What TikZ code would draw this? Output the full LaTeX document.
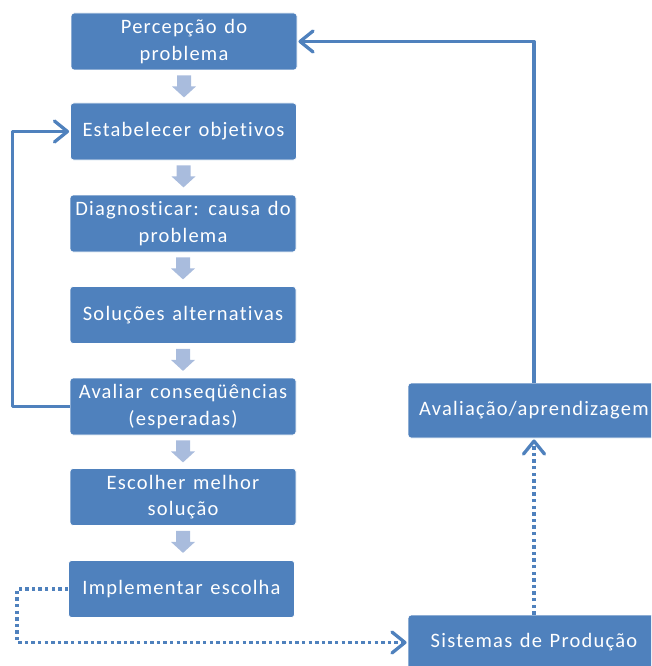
\documentclass[tikz,border=0pt]{standalone}
\usepackage{fontspec}
\setmainfont{Carlito}[Ligatures=NoCommon, LetterSpace=6, WordSpace=1.3]
\usetikzlibrary{arrows.meta}
\definecolor{boxblue}{HTML}{4F81BD}
\definecolor{stepblue}{HTML}{A9BCDD}
\definecolor{linkblue}{HTML}{4F81BD}
\tikzset{
  stage/.style={draw=white, line width=0.8pt, fill=boxblue, rounded corners=3pt,
    text=white, align=center, inner sep=0pt,
    minimum width=226pt, minimum height=57pt,
    font=\fontsize{20.5}{26.5}\selectfont},
  widestage/.style={stage, minimum width=252pt, minimum height=55pt},
  flowarrow/.style={fill=stepblue},
  loopline/.style={draw=linkblue, line width=3.3pt, line join=round,
    -{Straight Barb[length=13pt,width=21pt,line cap=round,line join=round]}, shorten >=1pt},
  dotline/.style={loopline, dash pattern=on 3.4pt off 3.2pt},
}
\newcommand\stepdown[1]{%
  \fill[flowarrow, shift={(#1.south)}]
    (-7,5) -- (7,5) -- (7,16) -- (12,16) -- (0,27) -- (-12,16) -- (-7,16) -- cycle;}
\begin{document}
\begin{tikzpicture}[x=1pt, y=-1pt]
  \useasboundingbox (0,0) rectangle (651,666);
  \clip (0,0) rectangle (651,666);

  % main decision steps
  \node[stage] (b1) at (184,41.5)  {Percepção do\\problema};
  \node[stage] (b2) at (183.5,131.5) {Estabelecer objetivos};
  \node[stage] (b3) at (183,223.5) {Diagnosticar: causa do\\problema};
  \node[stage] (b4) at (183,315)   {Soluções alternativas};
  \node[stage] (b5) at (183,406.5) {Avaliar conseqüências\\(esperadas)};
  \node[stage] (b6) at (183,497)   {Escolher melhor\\solução};
  \node[stage] (b7) at (181.5,589) {Implementar escolha};

  % right-hand column
  \node[widestage] (b8) at (534,410.5) {Avaliação/aprendizagem};
  \node[widestage] (b9) at (534,642.5) {Sistemas de Produção};

  % block arrows between steps
  \stepdown{b1}
  \stepdown{b2}
  \stepdown{b3}
  \stepdown{b4}
  \stepdown{b5}
  \stepdown{b6}

  % feedback loops
  \draw[loopline] (b5.west) -- ++(-57,0) |- (b2.west);
  \draw[loopline] (b8.north) |- (b1.east);

  % dotted links through production
  \draw[dotline] (b7.west) -- ++(-51,0) |- (b9.west);
  \draw[dotline] (b9.north) -- (b8.south);
\end{tikzpicture}
\end{document}
